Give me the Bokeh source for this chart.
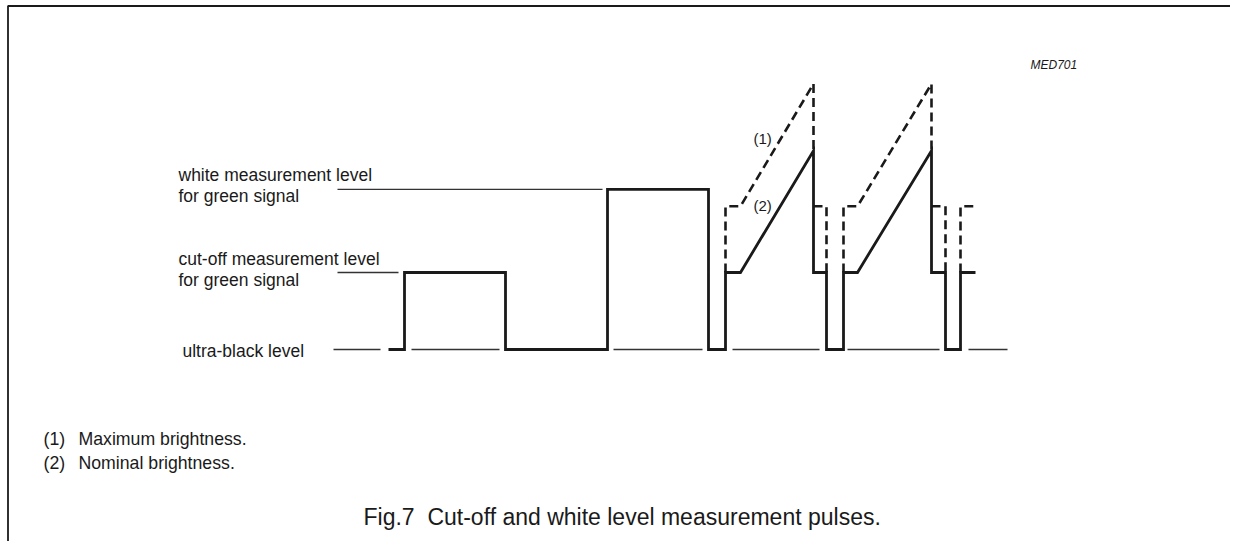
from bokeh.plotting import figure
from bokeh.models import Range1d, Label
from bokeh.embed import file_html
from bokeh.resources import INLINE

# ---- data: signal levels (ultra-black = 0, cut-off = 1) ----
ultra_black = 0.0
cut_off = 1.0
white_level = 2.08
peak_nominal = 2.58
peak_max = 3.45
pedestal_max = 1.86

ub, co, wl, pn = ultra_black, cut_off, white_level, peak_nominal

# solid waveform (nominal brightness), time in arbitrary units
solid_t = [-1.6, 0, 0, 10.1, 10.1, 20.3, 20.3, 30.4, 30.4, 32.1, 32.1, 33.6,
           40.9, 40.9, 42.2, 42.2, 43.9, 43.9, 45.3, 52.7, 52.7, 54.1, 54.1,
           55.6, 55.6, 57.1]
solid_v = [ub, ub, co, co, ub, ub, wl, wl, ub, ub, co, co,
           pn, co, co, ub, ub, co, co, pn, co, co, ub,
           ub, co, co]

# dashed waveform (maximum brightness)
dash_t = [
    [32.1, 32.1, 33.6, 40.9, 40.9],
    [40.9, 42.2, 42.2],
    [43.9, 43.9, 45.3, 52.7, 52.7],
    [52.7, 54.1, 54.1],
    [55.6, 55.6, 57.1],
]
dash_v = [
    [co, pedestal_max, pedestal_max, peak_max, pn],
    [pedestal_max, pedestal_max, co],
    [co, pedestal_max, pedestal_max, peak_max, pn],
    [pedestal_max, pedestal_max, co],
    [co, pedestal_max, pedestal_max],
]

# thin reference level lines
ref_t0 = [-7.1, 0.7, 20.9, 32.8, 44.3, 56.4, -6.7, -6.7]
ref_t1 = [-2.4, 9.5, 29.8, 41.5, 53.5, 60.3, -0.6, 19.8]
ref_v = [ub, ub, ub, ub, ub, ub, co, wl]

level_labels = [
    ("white measurement level", 178, 174),
    ("for green signal", 178, 195),
    ("cut-off measurement level", 178, 258),
    ("for green signal", 178, 279),
    ("ultra-black level", 182, 350),
]
notes = [("(1)", "Maximum brightness."), ("(2)", "Nominal brightness.")]
caption = "Fig.7\u00a0 Cut-off and white level measurement pulses."
code = "MED701"

# ---- layout helpers (reference px -> data) ----
X0, XS = 404.0, 10.0
Y0, YS = 349.0, 77.0
def tx(px):
    return (px - X0) / XS
def ly(py):
    return (Y0 - py) / YS

W, H = 1230, 541
p = figure(width=W, height=H, output_backend="svg", toolbar_location=None,
           x_axis_type=None, y_axis_type=None, min_border=0,
           x_range=Range1d(tx(0), tx(W)), y_range=Range1d(ly(H), ly(0)))
p.grid.visible = False
p.outline_line_color = None
p.background_fill_color = "white"

FONT = "Liberation Sans"
INK = "#1a1a1a"

# frame border (left and top)
p.line([tx(7.5), tx(7.5), tx(1300)], [ly(600), ly(5.5), ly(5.5)],
       line_color=INK, line_width=1.8)

# reference lines
p.segment(x0=ref_t0, y0=ref_v, x1=ref_t1, y1=ref_v, line_color="#333333", line_width=1.3)

# dashed max-brightness waveform
p.multi_line(dash_t, dash_v, line_color=INK, line_width=2.6, line_dash="9 5")

# solid waveform
p.line(solid_t, solid_v, line_color=INK, line_width=2.8, line_join="miter")

def lab(text, x, y, size, style="normal", align="left"):
    p.add_layout(Label(x=tx(x), y=ly(y), text=text, text_font=FONT,
                       text_font_size=f"{size}px", text_font_style=style,
                       text_color=INK, text_baseline="middle", text_align=align))

for t, x, y in level_labels:
    lab(t, x, y, 17.5)

lab("(1)", 753, 138, 15)
lab("(2)", 753, 205, 15)
lab(code, 1030, 64, 12, style="italic")

for i, (n, t) in enumerate(notes):
    lab(n, 43, 438 + 24 * i, 17.7)
    lab(t, 78, 438 + 24 * i, 17.7)

lab(caption, 363, 516, 23)

open("out.html", "w").write(file_html(p, INLINE))
